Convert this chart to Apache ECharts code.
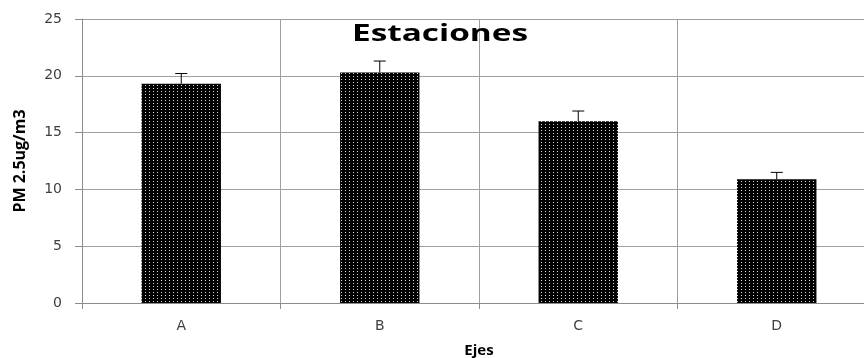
<!DOCTYPE html>
<html>
<head>
<meta charset="utf-8">
<script src="https://cdn.jsdelivr.net/npm/echarts@6/dist/echarts.min.js"></script>
<style>
    html, body { margin: 0; padding: 0; background: #fff; overflow: hidden; }
    #chart { width: 876px; height: 358px; }
</style>
</head>
<body>
<div id="chart"></div>
<script>
var categories = ['A', 'B', 'C', 'D'];
var means = [19.3, 20.3, 16.0, 10.9];
var errors = [0.9, 1.0, 0.9, 0.6];
var yTicks = [0, 5, 10, 15, 20, 25];

// patron de puntos del relleno de barras
var makePattern = function () {
    var c = document.createElement('canvas');
    c.width = 4;
    c.height = 3;
    var ctx = c.getContext('2d');
    ctx.fillStyle = '#000';
    ctx.fillRect(0, 0, 4, 3);
    ctx.fillStyle = '#d8d8d8';
    ctx.fillRect(1, 1, 1, 1);
    return c;
};

var myChart = echarts.init(document.getElementById('chart'));
var errData = [];
for (var i = 0; i < categories.length; i++) {
    errData.push([i, means[i], means[i] + errors[i]]);
}

var option = {
    animation: false,
    // titulo ensanchado como en la imagen original
    graphic: [{
        type: 'text',
        x: 440,
        y: 34,
        scaleX: 1.45,
        style: {
            text: 'Estaciones',
            textAlign: 'center',
            textVerticalAlign: 'middle',
            fontFamily: 'Open Sans',
            fontWeight: 'bold',
            fontSize: 23,
            fill: '#000'
        },
        z: 20
    }],
    grid: {
        left: 82,
        right: 0,
        top: 19,
        bottom: 55,
        outerBoundsMode: 'none'
    },
    xAxis: {
        type: 'category',
        data: categories,
        name: 'Ejes',
        nameLocation: 'middle',
        nameGap: 40,
        nameTextStyle: {
            fontFamily: 'Open Sans',
            fontWeight: 'bold',
            fontSize: 15,
            color: '#000'
        },
        axisLine: { lineStyle: { color: '#8c8c8c' } },
        axisTick: { show: true, length: 6, lineStyle: { color: '#8c8c8c' } },
        axisLabel: {
            fontFamily: 'DejaVu Sans',
            fontSize: 14,
            color: '#404040',
            margin: 16
        },
        splitLine: { show: true, lineStyle: { color: '#a0a0a0' } }
    },
    yAxis: {
        type: 'value',
        min: yTicks[0],
        max: yTicks[yTicks.length - 1],
        interval: 5,
        name: 'PM 2.5ug/m3',
        nameLocation: 'middle',
        nameRotate: 90,
        nameGap: 54,
        nameTextStyle: {
            fontFamily: 'Open Sans',
            fontWeight: 'bold',
            fontSize: 16,
            color: '#000'
        },
        axisLine: { show: true, lineStyle: { color: '#8c8c8c' } },
        axisTick: { show: true, length: 7, lineStyle: { color: '#8c8c8c' } },
        axisLabel: {
            fontFamily: 'DejaVu Sans',
            fontSize: 14,
            color: '#404040',
            margin: 20
        },
        splitLine: { show: true, lineStyle: { color: '#a0a0a0' } }
    },
    series: [
        {
            type: 'bar',
            data: means,
            barWidth: '40%',
            itemStyle: {
                color: { image: makePattern(), repeat: 'repeat' }
            }
        },
        {
            type: 'custom',
            data: errData,
            z: 10,
            renderItem: function (params, api) {
                var base = api.coord([api.value(0), api.value(1)]);
                var top = api.coord([api.value(0), api.value(2)]);
                var hw = 6;
                return {
                    type: 'group',
                    children: [
                        {
                            type: 'line',
                            shape: { x1: base[0], y1: base[1], x2: top[0], y2: top[1] },
                            style: { stroke: '#000', lineWidth: 1 }
                        },
                        {
                            type: 'line',
                            shape: { x1: top[0] - hw, y1: top[1], x2: top[0] + hw, y2: top[1] },
                            style: { stroke: '#000', lineWidth: 1 }
                        }
                    ]
                };
            }
        }
    ]
};
myChart.setOption(option);
</script>
</body>
</html>
